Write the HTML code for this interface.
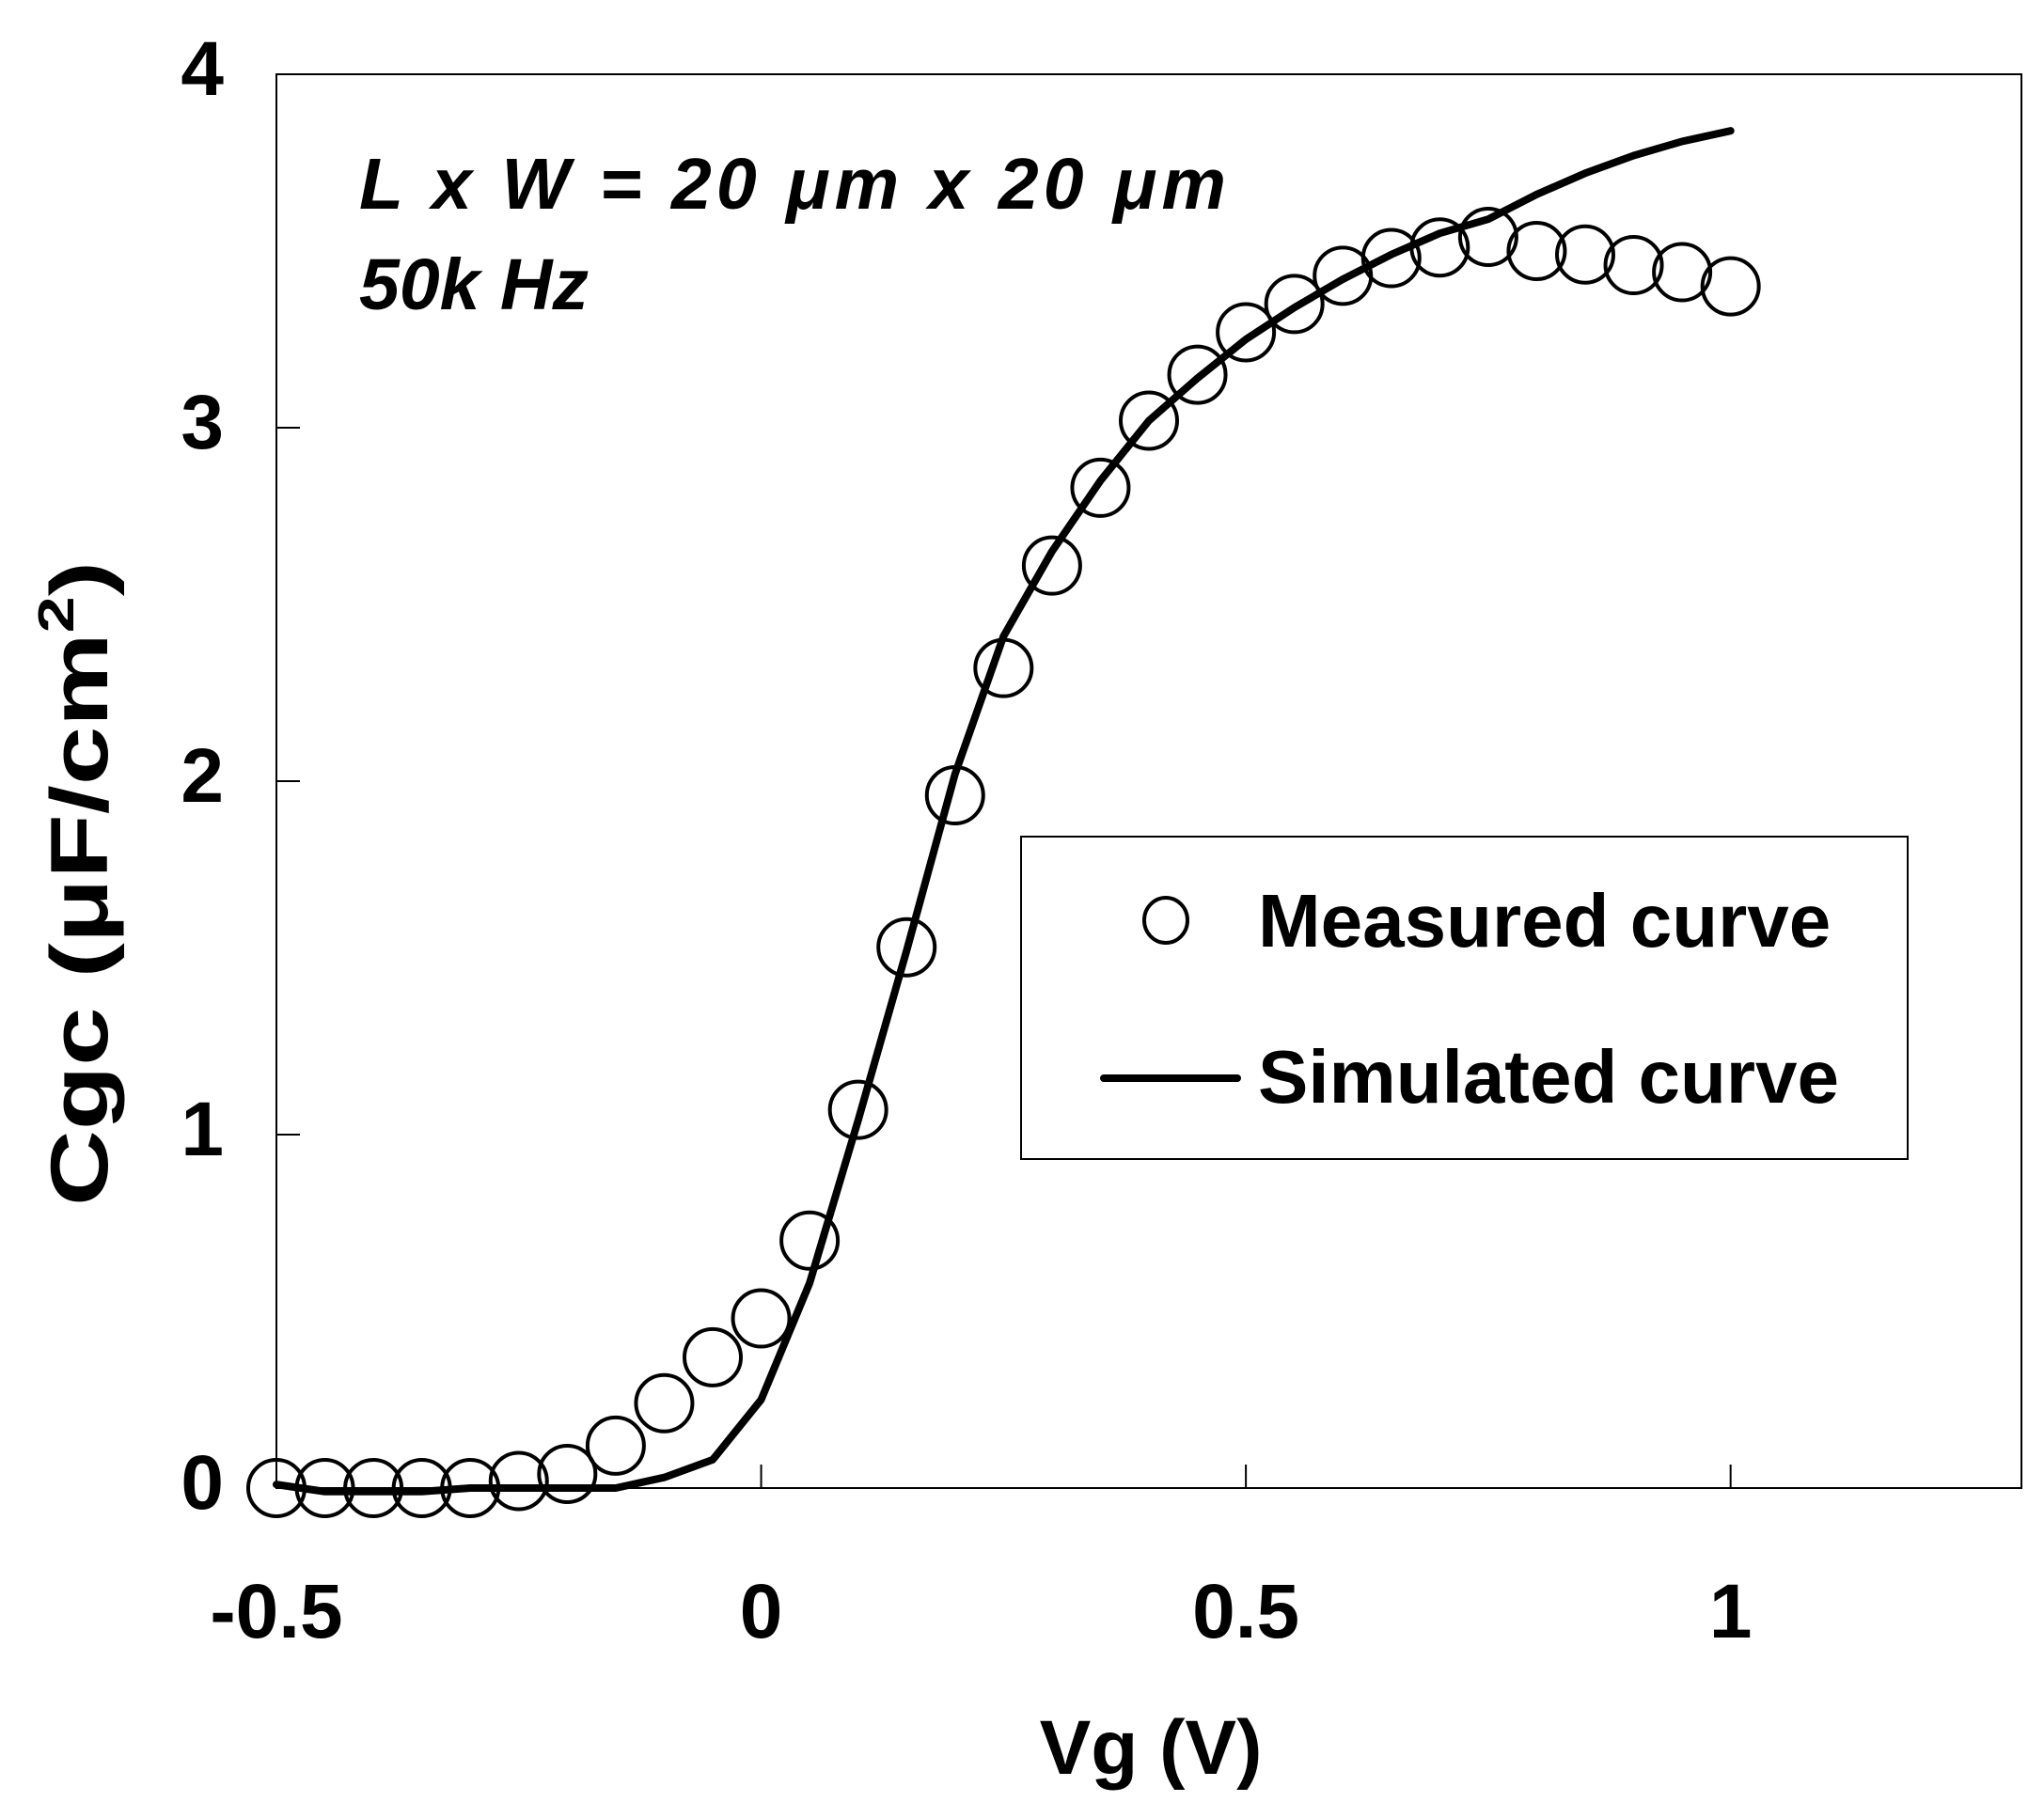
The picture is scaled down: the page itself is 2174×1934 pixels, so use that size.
<!DOCTYPE html>
<html><head><meta charset="utf-8"><style>
html,body{margin:0;padding:0;background:#fff}
svg{display:block}
text{font-family:"Liberation Sans",Arial,sans-serif;font-weight:bold;fill:#000}
</style></head><body>
<svg id="chart" width="2174" height="1934" viewBox="0 0 2174 1934">
<rect x="294" y="79" width="1856" height="1504" fill="#fff" stroke="#000" stroke-width="2"/>
<g id="ticks"></g>
<g id="series"></g>
<text x="382" y="222" font-size="77" font-style="italic" textLength="922" lengthAdjust="spacing">L  x  W = 20 μm  x  20 μm</text>
<text x="382" y="329" font-size="77" font-style="italic">50k Hz</text>
<text x="1224" y="1887" font-size="82" text-anchor="middle">Vg (V)</text>
<text transform="translate(114,940) rotate(-90)" font-size="86" text-anchor="middle" textLength="686" lengthAdjust="spacingAndGlyphs">Cgc (μF/cm<tspan font-size="54" dy="-36">2</tspan><tspan dy="36">)</tspan></text>
<g>
<rect x="1086" y="890" width="943" height="343" fill="#fff" stroke="#000" stroke-width="2"/>
<ellipse cx="1240" cy="979" rx="23" ry="24" fill="none" stroke="#000" stroke-width="4"/>
<text x="1338" y="1007" font-size="80">Measured curve</text>
<line x1="1174" y1="1147" x2="1316" y2="1147" stroke="#000" stroke-width="8" stroke-linecap="round"/>
<text x="1338" y="1173" font-size="80">Simulated curve</text>
</g>
</svg>
<script>
const xTicks = [-0.5, 0, 0.5, 1];
const xTickLabels = ["-0.5", "0", "0.5", "1"];
const yTicks = [0, 1, 2, 3, 4];
const yTickLabels = ["0", "1", "2", "3", "4"];
const measuredVg = [-0.5,-0.45,-0.4,-0.35,-0.3,-0.25,-0.2,-0.15,-0.1,-0.05,0,0.05,0.1,0.15,0.2,0.25,0.3,0.35,0.4,0.45,0.5,0.55,0.6,0.65,0.7,0.75,0.8,0.85,0.9,0.95,1.0];
const measuredCgc = [0,0,0,0,0,0.02,0.04,0.12,0.24,0.37,0.48,0.70,1.07,1.53,1.96,2.32,2.61,2.83,3.02,3.15,3.27,3.35,3.43,3.48,3.51,3.54,3.50,3.49,3.46,3.44,3.40];
const simVg = [-0.5,-0.45,-0.4,-0.35,-0.3,-0.25,-0.2,-0.15,-0.1,-0.05,0,0.05,0.1,0.15,0.2,0.25,0.3,0.35,0.4,0.45,0.5,0.55,0.6,0.65,0.7,0.75,0.8,0.85,0.9,0.95,1.0];
const simCgc = [0.01,-0.01,-0.01,-0.01,0,0,0,0,0.03,0.08,0.25,0.58,1.04,1.52,2.02,2.41,2.65,2.85,3.02,3.14,3.25,3.34,3.42,3.49,3.55,3.59,3.66,3.72,3.77,3.81,3.84];

const NS = "http://www.w3.org/2000/svg";
const X0 = 294, X1 = 2150, Y0 = 1583, Y1 = 79;
const xMin = -0.5, xMax = 1.3, yMin = 0, yMax = 4;
function sx(v){ return X0 + (v - xMin) / (xMax - xMin) * (X1 - X0); }
function sy(v){ return Y0 - (v - yMin) / (yMax - yMin) * (Y0 - Y1); }
function mk(tag, attrs){ const e = document.createElementNS(NS, tag); for (const k in attrs) e.setAttribute(k, attrs[k]); return e; }

const ticks = document.getElementById('ticks');
xTicks.forEach((v, i) => {
  const t = mk('line', {x1: sx(v), x2: sx(v), y1: Y0, y2: Y0 - 25, stroke: '#000', 'stroke-width': 2});
  
  
  ticks.appendChild(t);
  const l = mk('text', {x: sx(v), y: 1742, 'font-size': 82, 'text-anchor': 'middle'});
  l.textContent = xTickLabels[i];
  
  
  ticks.appendChild(l);
});
yTicks.forEach((v, i) => {
  const t = mk('line', {x1: X0, x2: X0 + 25, y1: sy(v), y2: sy(v), stroke: '#000', 'stroke-width': 2});
  
  
  ticks.appendChild(t);
  const l = mk('text', {x: 238, y: sy(v) + 22, 'font-size': 82, 'text-anchor': 'end'});
  l.textContent = yTickLabels[i];
  
  
  ticks.appendChild(l);
});

const series = document.getElementById('series');
const pts = simVg.map((v, i) => sx(v) + ',' + sy(simCgc[i])).join(' ');
const line = mk('polyline', {points: pts, fill: 'none', stroke: '#000', 'stroke-width': 8, 'stroke-linejoin': 'round', 'stroke-linecap': 'round'});


series.appendChild(line);
measuredVg.forEach((v, i) => {
  const c = mk('circle', {cx: sx(v), cy: sy(measuredCgc[i]), r: 30, fill: 'none', stroke: '#000', 'stroke-width': 4});
  
  
  series.appendChild(c);
});
</script>
</body></html>
